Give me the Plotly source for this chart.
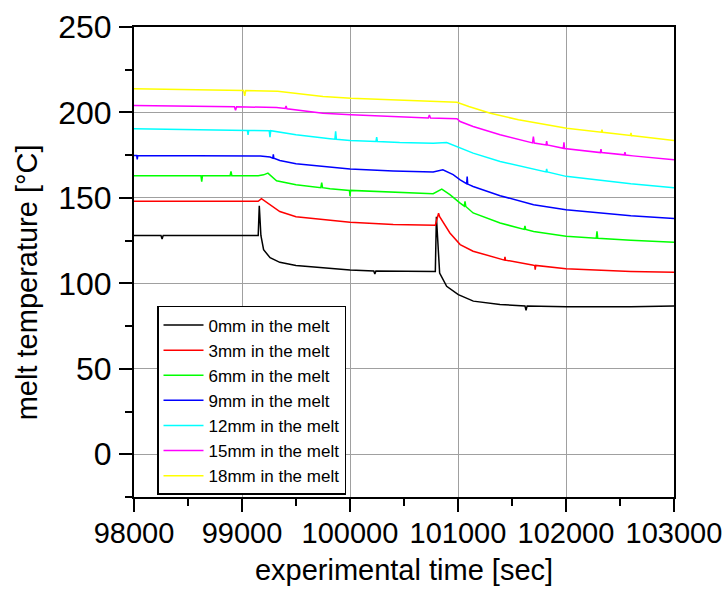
import plotly.graph_objects as go

# ---------------- data ----------------
t0 = [98000, 98250, 98260, 98270, 99150, 99160, 99175, 99200, 99260, 99350, 99500, 99815, 100000,
      100220, 100230, 100240, 100500, 100790, 100800, 100818, 100830, 100895, 101003, 101142, 101389,
      101620, 101630, 101640, 102006, 102600, 103000]
v0 = [128, 128, 126, 128, 128, 145.4, 128, 119.7, 115, 112.3, 110.4, 109, 107.8,
      107.3, 105.5, 107.3, 107.2, 107, 139, 118, 106, 98.3, 93.4, 89.6, 87.6,
      86.8, 84.3, 86.8, 86.3, 86.3, 86.7]

t3 = [98000, 99150, 99180, 99260, 99350, 99500, 99800, 100000, 100400, 100790, 100820, 100830,
      100925, 101020, 101140, 101390, 101430, 101435, 101440, 101700, 101710, 101715, 101720,
      102000, 102600, 103000]
v3 = [148, 148, 149.5, 146, 142, 139, 137, 135.7, 134.5, 134, 141, 139,
      129.5, 122.7, 118.8, 114, 113.6, 115.5, 113.6, 110.6, 110.5, 108, 110.5,
      108.5, 107, 106.5]

t6 = [98000, 98620, 98627, 98634, 98890, 98898, 98906, 99150, 99200, 99240, 99320, 99500, 99730,
      99738, 99746, 99815, 99995, 100000, 100005, 100400, 100770, 100850, 100925, 101020, 101058,
      101065, 101072, 101140, 101390, 101613, 101620, 101627, 101700, 102000, 102280, 102287,
      102294, 102600, 103000]
v6 = [163, 163, 159.5, 163, 163, 165.5, 163, 163, 163.5, 164.5, 160, 157.7, 156,
      159, 156, 155.4, 154.4, 151, 154.4, 153.3, 152.5, 155.2, 151.9, 147, 145.2,
      148, 145, 141.2, 135.3, 131.6, 133.6, 131.6, 130.4, 127.5, 126.4, 130.5,
      126.4, 125.2, 124]

t9 = [98000, 98025, 98030, 98035, 99170, 99260, 99285, 99290, 99295, 99350, 99500, 99815, 100000,
      100400, 100770, 100860, 100955, 101020, 101080, 101085, 101090, 101140, 101390, 101700,
      102000, 102600, 103000]
v9 = [174.8, 174.8, 172.5, 174.8, 174.5, 173.9, 173.2, 175.5, 173.2, 171.9, 170, 167.8, 166.9,
      165.8, 165.1, 166.5, 163.6, 160.6, 158.3, 162.5, 158.1, 156.7, 151.3, 146,
      143.1, 139.6, 138]

t12 = [98000, 98980, 99050, 99056, 99062, 99252, 99259, 99266, 99350, 99500, 99815, 99860, 99867,
       99874, 100000, 100240, 100247, 100254, 100460, 100770, 100895, 101020, 101140, 101390,
       101700, 101815, 101821, 101827, 102000, 102600, 103000]
v12 = [190.4, 189.6, 189.5, 186.9, 189.5, 189.3, 185.6, 189.3, 188.5, 186.9, 184.6, 184.3, 188.9,
       184.3, 183.6, 183, 185.6, 183, 182.4, 182, 182.4, 179, 176.2, 171.3,
       166.9, 165.2, 167, 165.2, 162.6, 158.3, 156]

t15 = [98000, 98930, 98940, 98950, 99320, 99400, 99408, 99416, 99750, 100010, 100725, 100735,
       100745, 100990, 101020, 101140, 101390, 101690, 101698, 101706, 101815, 101821, 101827,
       101975, 101981, 101987, 102318, 102324, 102330, 102540, 102546, 102552, 102620, 103000]
v15 = [204, 203.3, 201.3, 203.3, 202.9, 202.3, 203.8, 202.2, 199.6, 198.6, 196.7, 198.5,
       196.7, 196.3, 194.7, 191.8, 186.9, 182.2, 185.8, 182.1, 181, 183.3, 181,
       179, 182.5, 178.9, 176.5, 178.5, 176.5, 175.2, 176.8, 175.1, 174.6, 172.3]

t18 = [98000, 99015, 99025, 99035, 99330, 99750, 100010, 100990, 101100, 101300, 101560, 102006,
       102327, 102333, 102339, 102596, 102602, 102608, 102623, 103000]
v18 = [213.8, 212.9, 209.7, 212.9, 212.4, 209.3, 208.3, 206, 203.5, 199.5, 195.7, 190.8,
       188.4, 190, 188.4, 186.5, 188, 186.4, 186.3, 183.6]

names = ["0mm in the melt", "3mm in the melt", "6mm in the melt", "9mm in the melt",
         "12mm in the melt", "15mm in the melt", "18mm in the melt"]
colors = ["#000000", "#FF0000", "#00FF00", "#0000FF", "#00FFFF", "#FF00FF", "#FFFF00"]
series = [(t0, v0), (t3, v3), (t6, v6), (t9, v9), (t12, v12), (t15, v15), (t18, v18)]

x_title = "experimental time [sec]"
y_title = "melt temperature [°C]"

x_range = [98000, 103000]
y_range = [-25, 250]

FONT = "Liberation Sans, Arial, sans-serif"

fig = go.Figure()
for (tx, vy), nm, col in zip(series, names, colors):
    fig.add_trace(go.Scatter(x=tx, y=vy, mode="lines", name=nm,
                             line=dict(color=col, width=1.5)))

axis_common = dict(showline=True, linecolor="black", linewidth=2,
                   ticks="outside", tickcolor="black", tickwidth=2, ticklen=13,
                   zeroline=False, showgrid=True, gridcolor="#A0A0A0", gridwidth=1,
                   mirror=True, automargin=False)

fig.update_layout(
    width=724, height=590,
    margin=dict(l=134, r=50, t=27, b=93, autoexpand=False),
    paper_bgcolor="white", plot_bgcolor="white",
    font=dict(family=FONT, color="black"),
    showlegend=True,
    legend=dict(x=0.0426, y=0.4064, xanchor="left", yanchor="top",
                bgcolor="white", bordercolor="black", borderwidth=1.5,
                font=dict(size=17, color="black", family=FONT),
                itemwidth=40, tracegroupgap=0),
    xaxis=dict(range=x_range, tick0=98000, dtick=1000, tickformat="d",
               tickfont=dict(size=29, color="black", family=FONT),
               ticklabelstandoff=-4,
               minor=dict(dtick=500, ticks="outside", ticklen=7, tickwidth=2,
                          tickcolor="black", showgrid=False),
               title=dict(text=x_title, font=dict(size=29, family=FONT),
                          standoff=12),
               **axis_common),
    yaxis=dict(range=y_range, tick0=0, dtick=50,
               tickfont=dict(size=32, color="black", family=FONT),
               minor=dict(dtick=25, ticks="outside", ticklen=7, tickwidth=2,
                          tickcolor="black", showgrid=False),
               ticklabelstandoff=1,
               **axis_common),
    xaxis2=dict(range=x_range, overlaying="x", side="top", anchor="y",
                tick0=98000, dtick=1000, ticks="inside", ticklen=8, tickwidth=2,
                tickcolor="black", showticklabels=False, showgrid=False,
                showline=False, zeroline=False,
                minor=dict(dtick=500, ticks="inside", ticklen=6, tickwidth=2,
                           tickcolor="black", showgrid=False)),
    yaxis2=dict(range=y_range, overlaying="y", side="right", anchor="x",
                tick0=0, dtick=50, ticks="inside", ticklen=8, tickwidth=2,
                tickcolor="black", showticklabels=False, showgrid=False,
                showline=False, zeroline=False,
                minor=dict(dtick=25, ticks="inside", ticklen=6, tickwidth=2,
                           tickcolor="black", showgrid=False)),
    annotations=[dict(text=y_title, xref="paper", yref="paper",
                      x=-0.198, y=0.457, xanchor="center", yanchor="middle",
                      textangle=-90, showarrow=False,
                      font=dict(size=29, family=FONT, color="black"))],
)

fig.write_html("out.html")
